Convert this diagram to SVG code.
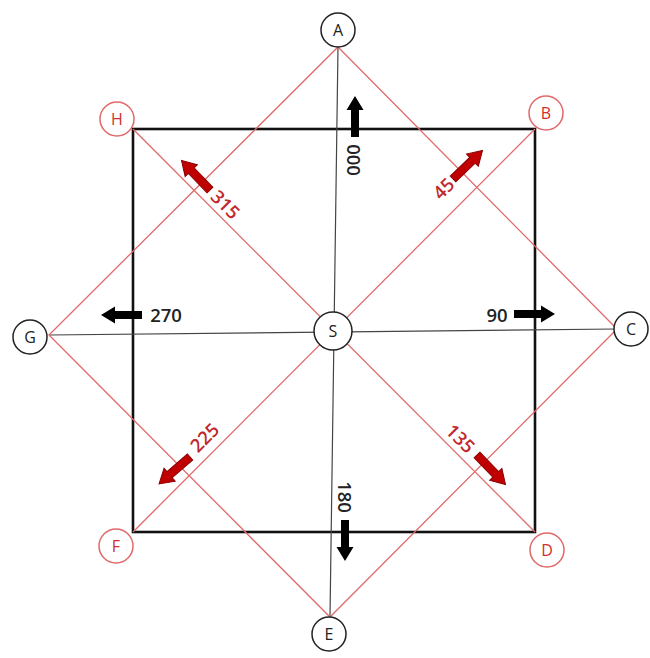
<svg xmlns="http://www.w3.org/2000/svg" width="650" height="658" viewBox="0 0 650 658">
<defs>
<style>
.thin{stroke:#444;stroke-width:1.2;fill:none}
.red{stroke:#e06a6a;stroke-width:1.3;fill:none}
.sq{stroke:#111;stroke-width:2.6;fill:none}
.nb{fill:#fff;stroke:#222;stroke-width:1.5}
.nr{fill:#fff;stroke:#e06a6a;stroke-width:1.5}
.lb{font-family:"Open Sans","Liberation Sans",sans-serif;font-size:16px;fill:#222;text-anchor:middle;dominant-baseline:central}
.lr{font-family:"Open Sans","Liberation Sans",sans-serif;font-size:16px;fill:#d03030;text-anchor:middle;dominant-baseline:central}
.tb{font-family:"Open Sans","Liberation Sans",sans-serif;font-size:18.5px;font-weight:600;fill:#222;text-anchor:middle;dominant-baseline:central}
.tr{font-family:"Open Sans","Liberation Sans",sans-serif;font-size:18.5px;font-weight:600;fill:#c0282c;text-anchor:middle;dominant-baseline:central}
.ab{fill:#000}
.ar{fill:#c00000;stroke:#8a0000;stroke-width:1}
</style>
<path id="arr" d="M0,-4 L27,-4 L27,-8.5 L41,0 L27,8.5 L27,4 L0,4 Z"/>
</defs>
<rect width="650" height="658" fill="#fff"/>
<g id="connectors">
<rect class="sq" x="133" y="129" width="402" height="403"/>
<line class="thin" x1="338" y1="47" x2="330" y2="617"/>
<line class="thin" x1="49" y1="335" x2="617" y2="329"/>
<polygon class="red" points="338,47 617,329 330,617 49,335"/>
<line class="red" x1="133" y1="129" x2="535" y2="532"/>
<line class="red" x1="535" y1="129" x2="133" y2="532"/>
</g>
<g id="arrows">
<use href="#arr" class="ab" transform="translate(355,137) rotate(-90)"/>
<use href="#arr" class="ab" transform="translate(142,315) rotate(180)"/>
<use href="#arr" class="ab" transform="translate(514,314)"/>
<use href="#arr" class="ab" transform="translate(345,520) rotate(90)"/>
<use href="#arr" class="ar" transform="translate(210,190) rotate(-134)"/>
<use href="#arr" class="ar" transform="translate(453,179) rotate(-44)"/>
<use href="#arr" class="ar" transform="translate(190,457) rotate(139)"/>
<use href="#arr" class="ar" transform="translate(477,455) rotate(46)"/>
</g>
<g id="labels">
<text class="tb" transform="translate(354,160) rotate(90)">000</text>
<text class="tb" x="166" y="314">270</text>
<text class="tb" x="497" y="314">90</text>
<text class="tb" transform="translate(345,497) rotate(90)">180</text>
<text class="tr" transform="translate(226,204) rotate(45)">315</text>
<text class="tr" transform="translate(443,188) rotate(-45)">45</text>
<text class="tr" transform="translate(204,437) rotate(-45)">225</text>
<text class="tr" transform="translate(461,438) rotate(45)">135</text>
</g>
<g id="node-A"><circle class="nb" cx="338" cy="30" r="17"/><text class="lb" x="338" y="30">A</text></g>
<g id="node-B"><circle class="nr" cx="546" cy="113" r="17"/><text class="lr" x="546" y="113">B</text></g>
<g id="node-C"><circle class="nb" cx="631" cy="329" r="17"/><text class="lb" x="631" y="329">C</text></g>
<g id="node-D"><circle class="nr" cx="547" cy="550" r="17"/><text class="lr" x="547" y="550">D</text></g>
<g id="node-E"><circle class="nb" cx="329" cy="634" r="17"/><text class="lb" x="329" y="634">E</text></g>
<g id="node-F"><circle class="nr" cx="116" cy="546" r="17"/><text class="lr" x="116" y="546">F</text></g>
<g id="node-G"><circle class="nb" cx="30" cy="337" r="17"/><text class="lb" x="30" y="337">G</text></g>
<g id="node-H"><circle class="nr" cx="117" cy="119" r="17"/><text class="lr" x="117" y="119">H</text></g>
<g id="node-S"><circle class="nb" cx="333" cy="331" r="19"/><text class="lb" x="333" y="331">S</text></g>
</svg>
